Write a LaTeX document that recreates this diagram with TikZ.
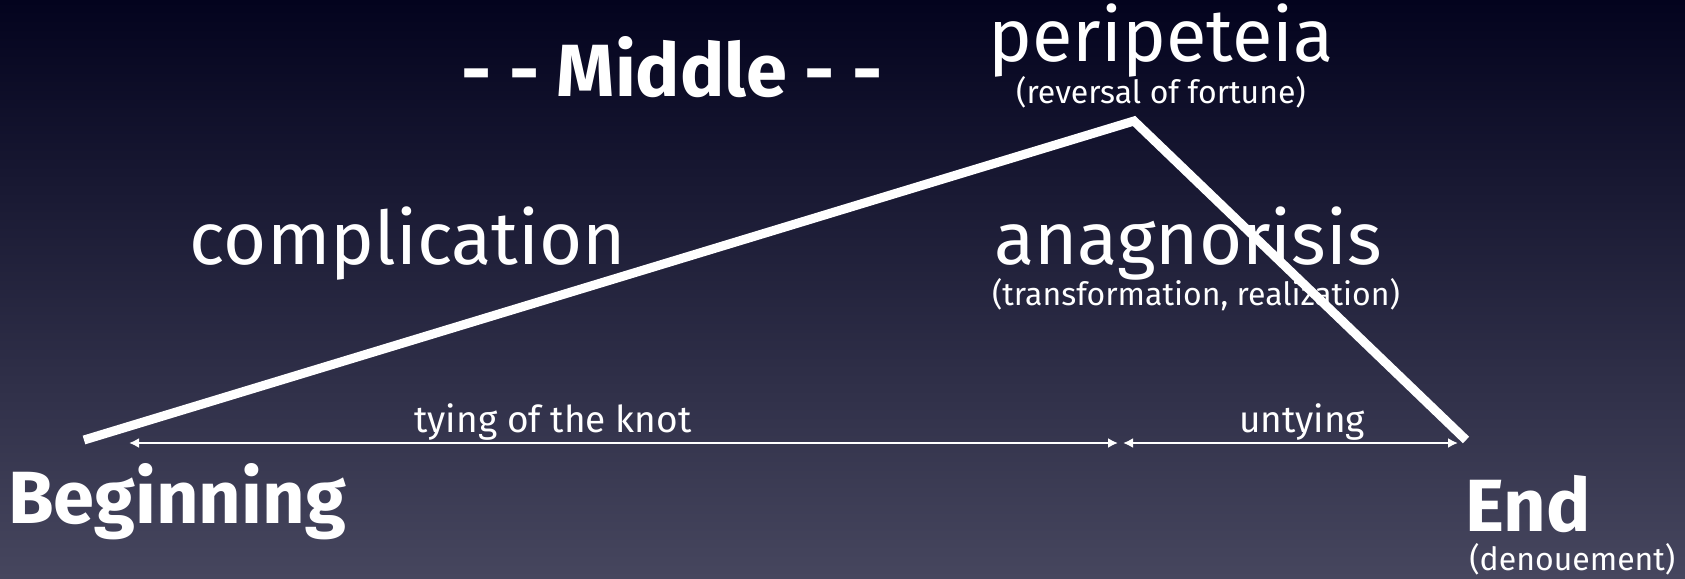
\documentclass[tikz,border=0pt]{standalone}
\usepackage{fontspec}
\setmainfont{Fira Sans}
\usetikzlibrary{arrows.meta,positioning}
\definecolor{skytop}{HTML}{03031E}
\definecolor{skymid}{HTML}{2A2A48}
\definecolor{skybottom}{HTML}{46465E}

\begin{document}
\begin{tikzpicture}[
    x=1pt,y=-1pt,
    every node/.style={text=white,inner sep=0pt},
    bigword/.style={font=\fontsize{74}{80}\selectfont},
    boldword/.style={font=\fontsize{74}{80}\selectfont\bfseries},
    gloss/.style={font=\fontsize{32}{36}\selectfont},
    spanlabel/.style={font=\fontsize{37}{40}\selectfont},
    arc/.style={white,line width=9pt,line cap=butt,line join=miter},
    spanarrow/.style={<->,white,line width=2pt,>={Latex[length=10pt,width=10pt]}}
  ]
  % background
  \shade[top color=skytop,middle color=skymid,bottom color=skybottom] (0,0) rectangle (1685,578);
  \useasboundingbox (0,0) rectangle (1685,578);

  % the plot line
  \coordinate (start) at (84,440);
  \coordinate (peak) at (1134,121);
  \coordinate (stop) at (1466,440);
  \draw[arc] (start) -- (peak) -- (stop);

  % labels
  \node[boldword,anchor=base] (middle) at (672,96) {- - Middle - -};
  \node[bigword,anchor=base] (peri) at (1161,61) {peripeteia};
  \node[gloss,below=-1pt of peri] (reversal) {(reversal of fortune)};
  \node[bigword,anchor=base] (compl) at (408,264) {complication};
  \node[bigword,anchor=base] (anag) at (1188,264) {anagnorisis};
  \node[gloss,below=-2pt of anag,xshift=8pt] (transf) {(transformation, realization)};
  \node[spanlabel,anchor=base] (tying) at (553,432) {tying of the knot};
  \node[spanlabel,anchor=base] (untying) at (1302,432) {untying};
  \node[boldword,anchor=base] (begin) at (177,523) {Beginning};
  \node[boldword,anchor=base] (finish) at (1528,531) {End};
  \node[gloss,below=11pt of finish.south west,anchor=north west,xshift=4pt] (denoue) {(denouement)};

  % spans
  \coordinate (tieL) at (129,443);
  \coordinate (tieR) at (1118,443);
  \coordinate (untieL) at (1123,443);
  \coordinate (untieR) at (1458,443);
  \draw[spanarrow] (tieL) -- (tieR);
  \draw[spanarrow] (untieL) -- (untieR);
\end{tikzpicture}
\end{document}
